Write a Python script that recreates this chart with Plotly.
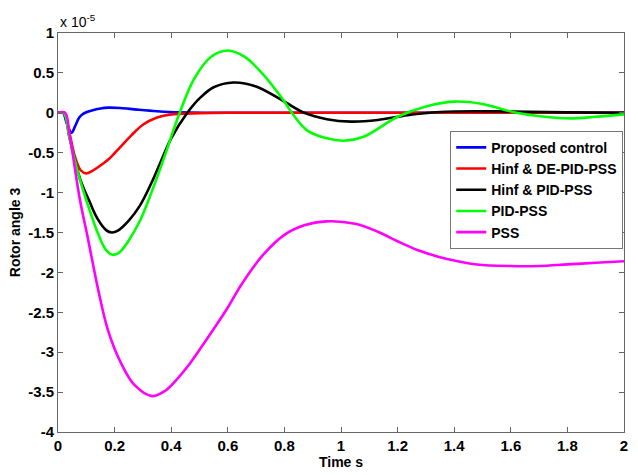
import plotly.graph_objects as go

# Rotor angle 3 responses (values in units of 1e-5)
t_prop = [0, 0.018, 0.03, 0.048, 0.06, 0.075, 0.09, 0.12, 0.15, 0.18, 0.22, 0.28, 0.35, 0.43, 0.55, 0.8, 1.2, 1.6, 2.0]
y_prop = [0, 0, -0.12, -0.25, -0.17, -0.06, -0.01, 0.03, 0.055, 0.065, 0.06, 0.04, 0.02, 0.005, 0, 0, 0, 0, 0]

t_hde = [0, 0.02, 0.04, 0.06, 0.08, 0.10, 0.12, 0.15, 0.18, 0.22, 0.26, 0.30, 0.35, 0.40, 0.5, 0.6, 0.8, 1.2, 1.6, 2.0]
y_hde = [0, 0, -0.25, -0.55, -0.72, -0.76, -0.73, -0.66, -0.58, -0.43, -0.28, -0.15, -0.06, -0.02, -0.005, 0, 0, 0, 0, 0]

t_hpid = [0, 0.02, 0.04, 0.06, 0.08, 0.11, 0.14, 0.17, 0.19, 0.21, 0.25, 0.29, 0.33, 0.36, 0.40, 0.457,
          0.50, 0.55, 0.62, 0.70, 0.80, 0.87, 0.95, 1.035, 1.13, 1.235, 1.35, 1.48, 1.6, 1.8, 2.0]
y_hpid = [0, 0, -0.3, -0.6, -0.85, -1.1, -1.33, -1.47, -1.50, -1.48, -1.35, -1.16, -0.88, -0.64, -0.32, 0,
          0.18, 0.32, 0.38, 0.33, 0.14, 0, -0.08, -0.11, -0.09, -0.03, 0.01, 0.02, 0.015, 0.005, 0]

t_pid = [0, 0.02, 0.04, 0.06, 0.08, 0.11, 0.14, 0.17, 0.196, 0.22, 0.25, 0.29, 0.33, 0.375, 0.43, 0.48,
         0.54, 0.60, 0.66, 0.72, 0.80, 0.826, 0.88, 0.95, 1.01, 1.08, 1.2, 1.3, 1.4, 1.5, 1.62, 1.72, 1.81, 1.9, 2.0]
y_pid = [0, 0, -0.3, -0.6, -0.87, -1.2, -1.5, -1.72, -1.78, -1.74, -1.6, -1.35, -1.0, -0.56, 0, 0.42,
         0.7, 0.78, 0.70, 0.5, 0.14, 0, -0.22, -0.32, -0.35, -0.3, -0.05, 0.08, 0.14, 0.11, 0, -0.05, -0.07, -0.05, -0.02]

t_pss = [0, 0.025, 0.04, 0.077, 0.106, 0.141, 0.177, 0.223, 0.27, 0.333, 0.38, 0.42, 0.46, 0.50, 0.55, 0.60,
         0.645, 0.72, 0.80, 0.87, 0.947, 1.05, 1.13, 1.2, 1.27, 1.34, 1.40, 1.48, 1.6, 1.7, 1.8, 1.9, 2.0]
y_pss = [0, 0, -0.25, -1.08, -1.58, -2.2, -2.73, -3.14, -3.41, -3.55, -3.48, -3.34, -3.17, -2.97, -2.71, -2.44,
         -2.17, -1.8, -1.53, -1.41, -1.36, -1.39, -1.49, -1.61, -1.72, -1.80, -1.85, -1.9, -1.92, -1.92, -1.9, -1.88, -1.86]

series = [
    ("Proposed control", t_prop, y_prop, "#0000ff"),
    ("Hinf & DE-PID-PSS", t_hde, y_hde, "#ff0000"),
    ("Hinf & PID-PSS", t_hpid, y_hpid, "#000000"),
    ("PID-PSS", t_pid, y_pid, "#00ff00"),
    ("PSS", t_pss, y_pss, "#ff00ff"),
]

x_ticks = [0, 0.2, 0.4, 0.6, 0.8, 1, 1.2, 1.4, 1.6, 1.8, 2]
y_ticks = [1, 0.5, 0, -0.5, -1, -1.5, -2, -2.5, -3, -3.5, -4]

fig = go.Figure()
for name, t, y, color in series:
    fig.add_trace(go.Scatter(x=t, y=y, name=name, mode="lines",
                             line=dict(color=color, width=2.6, shape="spline", smoothing=1.0)))

family = "Liberation Sans, Arial, sans-serif"
font = dict(family=family, size=15, color="black", weight=700)
axis_common = dict(showline=True, mirror="ticks", linecolor="#666666", linewidth=1,
                   ticks="inside", ticklen=5, tickcolor="#666666", showgrid=False,
                   zeroline=False, tickfont=font)

fig.update_layout(
    width=638, height=475,
    margin=dict(l=58, r=10, t=33, b=38),
    paper_bgcolor="white", plot_bgcolor="white",
    showlegend=True,
    legend=dict(x=0.693, y=0.755, xanchor="left", yanchor="top",
                bgcolor="white", bordercolor="#777777", borderwidth=1,
                font=dict(family=family, size=14, color="black", weight=700),
                tracegroupgap=0, itemwidth=30),
    xaxis=dict(range=[0, 2], tickvals=x_ticks, ticktext=[f"{v:g}" for v in x_ticks],
               title=dict(text="Time s", font=dict(family=family, size=14, color="black", weight=700),
                          standoff=1),
               **axis_common),
    yaxis=dict(range=[-4, 1], tickvals=y_ticks, ticktext=[f"{v:g}" for v in y_ticks],
               title=dict(text="Rotor angle 3", font=dict(family=family, size=14, color="black", weight=700),
                          standoff=4),
               **axis_common),
    annotations=[dict(text="x 10<sup>-5</sup>", x=0, y=1, xref="paper", yref="paper",
                      xanchor="left", yanchor="bottom", showarrow=False, yshift=1,
                      font=dict(family=family, size=14, color="black"))],
)

fig.write_html("out.html")
